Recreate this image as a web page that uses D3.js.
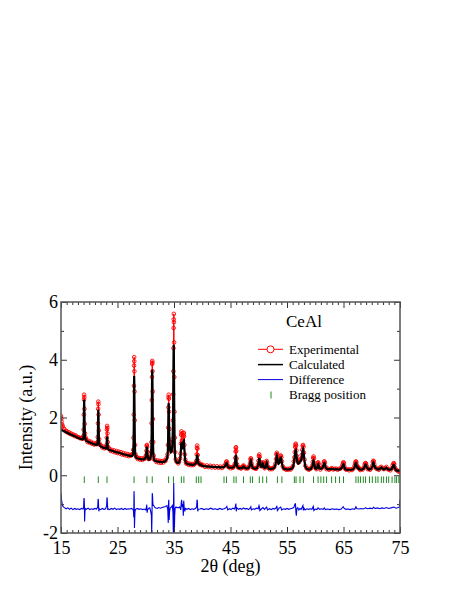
<!DOCTYPE html>
<html>
<head>
<meta charset="utf-8">
<script src="https://cdn.jsdelivr.net/npm/d3@7"></script>
<style>
  html, body { margin: 0; padding: 0; background: #fff; }
  svg { display: block; }
  text { font-family: "Liberation Serif", "Times New Roman", "DejaVu Serif", serif; fill: #000; }
</style>
</head>
<body>
<svg id="chart" width="457" height="591"></svg>
<script>
// ---------- DATA ----------
const twoTheta = [
  15.0, 15.05, 15.1, 15.2, 15.3, 15.45, 15.6, 15.8, 16.0, 16.2, 16.4, 16.6, 16.8, 17.0, 17.2, 17.4, 17.6, 17.8, 18.0, 18.2, 18.4, 18.6, 18.8,
  18.9, 18.96, 19.0, 19.04, 19.07, 19.1, 19.13, 19.16, 19.2, 19.25, 19.32, 19.4,
  19.5, 19.7, 19.9, 20.1, 20.3, 20.5, 20.7, 20.9, 21.1, 21.3,
  21.4, 21.46, 21.5, 21.54, 21.57, 21.6, 21.63, 21.66, 21.7, 21.75, 21.82, 21.9,
  22.1, 22.3, 22.5, 22.7, 22.9,
  23.0, 23.06, 23.1, 23.13, 23.16, 23.19, 23.22, 23.27, 23.35, 23.45,
  23.6, 23.8, 24.0, 24.2, 24.4, 24.6, 24.8, 25.0, 25.2, 25.4, 25.6, 25.8, 26.0, 26.2, 26.4, 26.6, 26.8, 27.0, 27.2, 27.4, 27.6,
  27.7, 27.78, 27.84, 27.88, 27.91, 27.93, 27.95, 27.97, 27.99, 28.02, 28.06, 28.12, 28.2, 28.3,
  28.45, 28.6, 28.8, 29.0, 29.2, 29.4, 29.6, 29.8, 29.95,
  30.05, 30.12, 30.17, 30.21, 30.25, 30.3, 30.4, 30.5, 30.6, 30.75, 30.85,
  30.95, 31.0, 31.04, 31.07, 31.1, 31.13, 31.15, 31.17, 31.2, 31.23, 31.27, 31.32, 31.4, 31.5,
  31.7, 31.9, 32.1, 32.3, 32.5, 32.7, 32.9, 33.1, 33.3, 33.5, 33.7,
  33.85, 33.92, 33.97, 34.01, 34.04, 34.06, 34.09, 34.13, 34.18, 34.25, 34.35, 34.45, 34.55, 34.65, 34.73, 34.8, 34.85, 34.88, 34.91, 34.93, 34.95, 34.97, 34.99, 35.02, 35.05, 35.09, 35.14, 35.2, 35.3, 35.45,
  35.6, 35.75, 35.9, 36.05,
  36.15, 36.22, 36.27, 36.31, 36.35, 36.42, 36.5, 36.58, 36.65, 36.7, 36.74, 36.78, 36.84, 36.92, 37.0, 37.1, 37.2,
  37.4, 37.6, 37.8, 38.0, 38.2, 38.4, 38.6, 38.8,
  38.95, 39.02, 39.07, 39.11, 39.15, 39.2, 39.28, 39.38, 39.5, 39.65, 39.8, 39.95,
  40.2, 40.5, 40.8, 41.1, 41.4, 41.7, 42.0, 42.3, 42.6, 42.9, 43.2, 43.5, 43.8, 44.0,
  44.15, 44.25, 44.32, 44.4, 44.5, 44.65,
  44.85, 45.05, 45.25, 45.45, 45.65,
  45.78, 45.85, 45.9, 45.94, 45.98, 46.02, 46.08, 46.16, 46.28, 46.45,
  46.65, 46.85, 47.05, 47.2, 47.3, 47.4, 47.6, 47.8, 48.0, 48.2, 48.35,
  48.45, 48.53, 48.6, 48.67, 48.75, 48.9, 49.1,
  49.3, 49.5, 49.7, 49.85,
  49.95, 50.03, 50.1, 50.17, 50.25, 50.38, 50.5, 50.62, 50.7, 50.78, 50.9, 51.05, 51.2, 51.32, 51.4, 51.48, 51.6, 51.75, 51.95,
  52.15, 52.35, 52.55, 52.75, 52.95,
  53.05, 53.12, 53.2, 53.28, 53.38, 53.5, 53.62, 53.75, 53.85, 53.92, 54.0, 54.1, 54.25, 54.45,
  54.65, 54.85, 55.05, 55.25, 55.45, 55.65, 55.85, 56.05, 56.2,
  56.3, 56.38, 56.45, 56.5, 56.55, 56.6, 56.67, 56.75, 56.85, 57.0, 57.15, 57.3, 57.45, 57.6, 57.7, 57.78, 57.85, 57.92, 58.0, 58.1, 58.25, 58.45,
  58.65, 58.85, 59.05, 59.25, 59.45,
  59.55, 59.63, 59.7, 59.77, 59.85, 60.0, 60.2, 60.35, 60.45, 60.52, 60.6, 60.72, 60.9, 61.1, 61.3, 61.45, 61.55, 61.62, 61.7, 61.82, 62.0,
  62.2, 62.45, 62.7, 62.95, 63.2, 63.45, 63.7, 63.95, 64.2, 64.45, 64.7,
  64.85, 64.93, 65.0, 65.07, 65.15, 65.3, 65.5,
  65.75, 66.0, 66.25, 66.5, 66.75, 66.95,
  67.05, 67.13, 67.2, 67.27, 67.35, 67.5, 67.62, 67.75, 67.95,
  68.15, 68.4, 68.6, 68.75, 68.85, 68.92, 69.0, 69.12, 69.3, 69.5, 69.7, 69.9, 70.1, 70.2, 70.28, 70.35, 70.45, 70.6, 70.8,
  71.0, 71.25, 71.5, 71.7, 71.9, 72.15, 72.4, 72.6, 72.8, 73.05, 73.3, 73.55, 73.7,
  73.82, 73.9, 73.98, 74.1, 74.3, 74.5, 74.7, 74.9, 75.0
];
const yObs = [
  2.05, 1.96, 1.86, 1.76, 1.70, 1.62, 1.60, 1.52, 1.53, 1.47, 1.49, 1.43, 1.45, 1.40, 1.41, 1.36, 1.38, 1.33, 1.32, 1.31, 1.28, 1.29, 1.27,
  1.28, 1.36, 1.58, 2.10, 2.62, 2.79, 2.70, 2.30, 1.78, 1.45, 1.32, 1.26,
  1.22, 1.15, 1.19, 1.12, 1.16, 1.09, 1.12, 1.06, 1.10, 1.08,
  1.08, 1.15, 1.32, 1.80, 2.30, 2.55, 2.46, 2.10, 1.55, 1.25, 1.10, 1.05,
  1.03, 0.96, 0.99, 0.93, 0.97,
  0.95, 1.05, 1.30, 1.58, 1.71, 1.64, 1.45, 1.15, 0.98, 0.92,
  0.91, 0.84, 0.88, 0.82, 0.86, 0.79, 0.84, 0.77, 0.82, 0.75, 0.80, 0.72, 0.77, 0.70, 0.75, 0.68, 0.73, 0.66, 0.71, 0.68, 0.72,
  0.74, 0.88, 1.30, 2.10, 3.10, 3.80, 4.09, 3.95, 3.60, 2.90, 1.90, 1.05, 0.72, 0.63,
  0.62, 0.56, 0.60, 0.54, 0.59, 0.53, 0.58, 0.57, 0.64,
  0.70, 0.85, 1.02, 1.05, 0.98, 0.80, 0.63, 0.56, 0.57, 0.58, 0.66,
  0.80, 1.15, 1.80, 2.60, 3.40, 3.85, 3.96, 3.90, 3.60, 2.90, 1.95, 1.15, 0.68, 0.54,
  0.53, 0.46, 0.51, 0.44, 0.50, 0.43, 0.49, 0.44, 0.51, 0.50, 0.60,
  0.72, 1.05, 1.65, 2.35, 2.70, 2.79, 2.65, 2.20, 1.60, 1.15, 0.92, 0.84, 0.86, 0.98, 1.25, 1.90, 2.80, 3.60, 4.40, 5.10, 5.40, 5.59, 5.30, 4.60, 3.40, 2.20, 1.30, 0.80, 0.55, 0.47,
  0.46, 0.41, 0.47, 0.58,
  0.75, 1.10, 1.40, 1.52, 1.45, 1.20, 1.05, 1.20, 1.38, 1.45, 1.47, 1.35, 1.05, 0.72, 0.54, 0.45, 0.40,
  0.42, 0.36, 0.40, 0.35, 0.39, 0.35, 0.38, 0.43,
  0.50, 0.72, 0.95, 1.03, 0.92, 0.70, 0.50, 0.42, 0.38, 0.37, 0.39, 0.34,
  0.35, 0.29, 0.34, 0.28, 0.33, 0.27, 0.32, 0.26, 0.31, 0.26, 0.30, 0.25, 0.31, 0.34,
  0.39, 0.46, 0.48, 0.42, 0.33, 0.28,
  0.29, 0.24, 0.28, 0.26, 0.33,
  0.40, 0.60, 0.82, 0.95, 0.97, 0.84, 0.58, 0.38, 0.29, 0.26,
  0.27, 0.23, 0.27, 0.31, 0.34, 0.30, 0.24, 0.26, 0.23, 0.27, 0.33,
  0.43, 0.55, 0.59, 0.53, 0.40, 0.28, 0.25,
  0.25, 0.22, 0.27, 0.36,
  0.50, 0.66, 0.72, 0.64, 0.46, 0.32, 0.31, 0.41, 0.45, 0.40, 0.30, 0.24, 0.29, 0.43, 0.50, 0.44, 0.31, 0.25, 0.21,
  0.24, 0.21, 0.25, 0.29, 0.40,
  0.56, 0.72, 0.78, 0.72, 0.54, 0.45, 0.48, 0.60, 0.67, 0.68, 0.62, 0.48, 0.31, 0.23,
  0.23, 0.19, 0.22, 0.19, 0.23, 0.20, 0.25, 0.32, 0.48,
  0.62, 0.80, 0.98, 1.06, 1.09, 1.02, 0.86, 0.66, 0.52, 0.44, 0.46, 0.54, 0.56, 0.70, 0.88, 1.02, 1.05, 0.98, 0.78, 0.54, 0.33, 0.24,
  0.23, 0.19, 0.22, 0.24, 0.33,
  0.46, 0.60, 0.65, 0.58, 0.42, 0.26, 0.21, 0.31, 0.42, 0.45, 0.39, 0.27, 0.20, 0.25, 0.28, 0.39, 0.47, 0.48, 0.43, 0.30, 0.21,
  0.23, 0.19, 0.22, 0.25, 0.20, 0.22, 0.23, 0.19, 0.22, 0.23, 0.30,
  0.37, 0.43, 0.45, 0.41, 0.31, 0.22, 0.19,
  0.21, 0.17, 0.21, 0.18, 0.23, 0.32,
  0.39, 0.46, 0.48, 0.44, 0.35, 0.27, 0.28, 0.23, 0.18,
  0.21, 0.20, 0.26, 0.36, 0.41, 0.42, 0.39, 0.31, 0.21, 0.22, 0.19, 0.24, 0.34, 0.46, 0.50, 0.48, 0.38, 0.28, 0.23,
  0.22, 0.19, 0.27, 0.29, 0.24, 0.21, 0.25, 0.29, 0.21, 0.20, 0.17, 0.24, 0.34,
  0.40, 0.42, 0.38, 0.27, 0.19, 0.17, 0.13, 0.14, 0.12
];
const yCalc = [
  1.58, 1.57, 1.57, 1.56, 1.55, 1.53, 1.52, 1.50, 1.48, 1.46, 1.44, 1.42, 1.40, 1.39, 1.37, 1.35, 1.33, 1.31, 1.30, 1.28, 1.27, 1.25, 1.24,
  1.25, 1.30, 1.45, 1.85, 2.35, 2.61, 2.40, 1.90, 1.50, 1.33, 1.26, 1.23,
  1.19, 1.17, 1.15, 1.13, 1.12, 1.10, 1.08, 1.07, 1.06, 1.06,
  1.06, 1.10, 1.22, 1.55, 2.00, 2.27, 2.08, 1.65, 1.28, 1.12, 1.05, 1.02,
  0.99, 0.97, 0.95, 0.94, 0.93,
  0.93, 0.98, 1.12, 1.28, 1.34, 1.25, 1.10, 0.97, 0.91, 0.89,
  0.87, 0.86, 0.85, 0.84, 0.82, 0.81, 0.80, 0.79, 0.78, 0.77, 0.76, 0.74, 0.73, 0.72, 0.71, 0.70, 0.69, 0.68, 0.67, 0.67, 0.67,
  0.70, 0.80, 1.10, 1.70, 2.60, 3.20, 3.44, 3.25, 2.70, 1.90, 1.20, 0.80, 0.66, 0.61,
  0.59, 0.58, 0.57, 0.56, 0.56, 0.55, 0.55, 0.56, 0.60,
  0.66, 0.78, 0.92, 0.98, 0.90, 0.74, 0.60, 0.55, 0.54, 0.56, 0.62,
  0.72, 0.95, 1.40, 2.10, 2.95, 3.50, 3.65, 3.45, 2.80, 2.00, 1.30, 0.85, 0.60, 0.52,
  0.49, 0.48, 0.47, 0.47, 0.46, 0.46, 0.45, 0.46, 0.47, 0.49, 0.55,
  0.65, 0.90, 1.40, 2.05, 2.45, 2.50, 2.30, 1.80, 1.30, 1.00, 0.85, 0.80, 0.82, 0.90, 1.10, 1.60, 2.30, 3.00, 3.80, 4.30, 4.52, 4.35, 3.80, 2.90, 2.00, 1.30, 0.85, 0.62, 0.50, 0.45,
  0.43, 0.42, 0.44, 0.52,
  0.65, 0.88, 1.08, 1.14, 1.08, 0.95, 0.90, 0.98, 1.12, 1.19, 1.20, 1.12, 0.90, 0.65, 0.50, 0.43, 0.41,
  0.39, 0.38, 0.38, 0.37, 0.36, 0.36, 0.37, 0.40,
  0.46, 0.58, 0.68, 0.71, 0.66, 0.55, 0.43, 0.40, 0.37, 0.36, 0.37, 0.33,
  0.32, 0.31, 0.31, 0.30, 0.30, 0.29, 0.29, 0.28, 0.28, 0.28, 0.27, 0.27, 0.28, 0.31,
  0.36, 0.41, 0.42, 0.38, 0.31, 0.27,
  0.26, 0.26, 0.26, 0.27, 0.30,
  0.36, 0.50, 0.63, 0.70, 0.68, 0.58, 0.43, 0.32, 0.27, 0.25,
  0.25, 0.24, 0.25, 0.28, 0.30, 0.28, 0.25, 0.24, 0.24, 0.25, 0.30,
  0.38, 0.47, 0.50, 0.46, 0.36, 0.26, 0.24,
  0.23, 0.23, 0.25, 0.32,
  0.42, 0.55, 0.60, 0.54, 0.40, 0.30, 0.30, 0.37, 0.40, 0.36, 0.28, 0.25, 0.27, 0.38, 0.43, 0.38, 0.28, 0.23, 0.22,
  0.22, 0.22, 0.23, 0.26, 0.35,
  0.48, 0.60, 0.66, 0.60, 0.46, 0.40, 0.42, 0.52, 0.59, 0.60, 0.54, 0.42, 0.28, 0.22,
  0.21, 0.21, 0.20, 0.20, 0.21, 0.21, 0.23, 0.28, 0.40,
  0.55, 0.68, 0.80, 0.86, 0.87, 0.82, 0.70, 0.56, 0.45, 0.40, 0.42, 0.48, 0.50, 0.60, 0.75, 0.87, 0.90, 0.84, 0.68, 0.48, 0.30, 0.23,
  0.21, 0.20, 0.20, 0.22, 0.29,
  0.38, 0.47, 0.50, 0.46, 0.36, 0.24, 0.22, 0.28, 0.36, 0.38, 0.34, 0.25, 0.22, 0.23, 0.26, 0.34, 0.41, 0.42, 0.38, 0.28, 0.22,
  0.21, 0.21, 0.21, 0.23, 0.21, 0.20, 0.22, 0.20, 0.20, 0.21, 0.26,
  0.32, 0.37, 0.38, 0.35, 0.28, 0.21, 0.19,
  0.19, 0.19, 0.19, 0.19, 0.21, 0.28,
  0.34, 0.40, 0.42, 0.39, 0.31, 0.25, 0.26, 0.22, 0.19,
  0.19, 0.21, 0.24, 0.31, 0.36, 0.37, 0.35, 0.28, 0.22, 0.20, 0.21, 0.22, 0.30, 0.40, 0.44, 0.42, 0.34, 0.26, 0.24,
  0.21, 0.20, 0.24, 0.27, 0.23, 0.20, 0.23, 0.26, 0.22, 0.19, 0.19, 0.22, 0.30,
  0.35, 0.36, 0.33, 0.24, 0.18, 0.16, 0.16, 0.15, 0.15
];
const diffTheta = [
  15.0, 15.1, 15.2, 15.35, 15.6, 15.9, 16.2, 16.5, 16.8, 17.1, 17.4, 17.7, 18.0, 18.3, 18.6, 18.9,
  19.0, 19.06, 19.1, 19.14, 19.18, 19.23, 19.3,
  19.5, 19.8, 20.1, 20.4, 20.7, 21.0, 21.3,
  21.5, 21.56, 21.6, 21.65, 21.7, 21.78,
  22.0, 22.3, 22.6, 22.9,
  23.08, 23.13, 23.17, 23.22, 23.28, 23.36,
  23.6, 23.9, 24.2, 24.5, 24.8, 25.1, 25.4, 25.7, 26.0, 26.3, 26.6, 26.9, 27.2, 27.5, 27.7,
  27.82, 27.88, 27.92, 27.96, 28.0, 28.04, 28.1, 28.2,
  28.5, 28.8, 29.1, 29.4, 29.7, 30.0,
  30.12, 30.18, 30.24, 30.32, 30.5, 30.7, 30.85,
  31.0, 31.05, 31.1, 31.15, 31.2, 31.25, 31.32, 31.42, 31.55, 31.7,
  32.0, 32.3, 32.6, 32.9, 33.2, 33.5, 33.75,
  33.9, 33.98, 34.03, 34.08, 34.14, 34.22, 34.35, 34.55, 34.7,
  34.82, 34.88, 34.92, 34.95, 34.98, 35.02, 35.06, 35.12, 35.2,
  35.35, 35.55, 35.8, 36.0,
  36.2, 36.28, 36.35, 36.45, 36.55, 36.65, 36.72, 36.8, 36.9, 37.05,
  37.3, 37.6, 37.9, 38.2, 38.5, 38.8,
  39.0, 39.08, 39.13, 39.2, 39.3,
  39.6, 39.9, 40.3, 40.7, 41.1, 41.5, 41.9, 42.3, 42.7, 43.1, 43.5, 43.9,
  44.2, 44.35, 44.5, 44.8, 45.1, 45.4, 45.7, 45.85, 45.95, 46.02, 46.1,
  46.4, 46.7, 47.0, 47.3, 47.6, 47.9, 48.2, 48.5, 48.6, 48.7, 49.0, 49.3, 49.6, 49.9,
  50.05, 50.12, 50.2, 50.5, 50.75, 51.0, 51.4, 51.55, 51.9, 52.2, 52.5, 52.8,
  53.1, 53.2, 53.3, 53.6, 53.9, 54.05, 54.4, 54.7, 55.0, 55.3, 55.6, 55.9,
  56.2, 56.4, 56.5, 56.58, 56.65, 56.75, 56.9, 57.1, 57.3, 57.5, 57.7, 57.82, 57.9, 58.0,
  58.2, 58.5, 58.8, 59.1, 59.4, 59.65, 59.75, 60.0, 60.3, 60.5, 60.8, 61.1, 61.4, 61.6, 61.8,
  62.2, 62.6, 63.0, 63.4, 63.8, 64.2, 64.6, 64.95, 65.1, 65.4, 65.8, 66.2, 66.6, 67.0, 67.2, 67.35,
  67.7, 68.1, 68.5, 68.9, 69.3, 69.7, 70.1, 70.3, 70.6, 71.0, 71.4, 71.8, 72.2, 72.6, 73.0, 73.4,
  73.9, 74.3, 74.7, 74.9, 75.0
];
const yDiff = [
  -0.62, -0.86, -0.98, -1.08, -1.12, -1.16, -1.13, -1.18, -1.14, -1.19, -1.15, -1.18, -1.16, -1.19, -1.15, -1.17,
  -1.10, -0.82, -0.79, -1.00, -1.60, -1.30, -1.15,
  -1.18, -1.14, -1.19, -1.16, -1.18, -1.15, -1.17,
  -1.10, -0.85, -0.82, -1.05, -1.25, -1.16,
  -1.19, -1.15, -1.18, -1.16,
  -1.05, -0.80, -0.77, -1.00, -1.20, -1.16,
  -1.19, -1.15, -1.18, -1.14, -1.19, -1.16, -1.18, -1.15, -1.19, -1.15, -1.18, -1.16, -1.17, -1.15, -1.18,
  -1.22, -1.45, -0.55, -0.75, -1.83, -1.55, -1.25, -1.18,
  -1.15, -1.18, -1.16, -1.19, -1.17, -1.20,
  -1.10, -1.02, -1.30, -1.20, -1.15, -1.13, -1.22,
  -1.40, -1.99, -1.50, -0.62, -0.70, -0.95, -1.05, -1.05, -1.10, -1.13,
  -1.15, -1.12, -1.14, -1.12, -1.10, -1.08, -1.05,
  -1.20, -1.65, -0.95, -0.85, -1.55, -1.25, -1.12, -1.10, -1.05,
  -1.30, -1.98, -0.90, -0.27, -0.65, -1.60, -2.00, -1.40, -1.15,
  -1.10, -1.12, -1.12, -1.10,
  -1.20, -0.95, -0.85, -1.10, -1.00, -1.40, -0.88, -1.10, -1.25, -1.15,
  -1.18, -1.15, -1.19, -1.16, -1.18, -1.15,
  -1.10, -0.85, -0.88, -1.25, -1.18,
  -1.17, -1.15, -1.19, -1.16, -1.18, -1.14, -1.18, -1.16, -1.19, -1.15, -1.18, -1.16,
  -1.12, -1.08, -1.20, -1.16, -1.19, -1.14, -1.17, -1.10, -0.98, -1.25, -1.12,
  -1.18, -1.15, -1.18, -1.13, -1.17, -1.15, -1.19, -1.13, -1.09, -1.20, -1.16, -1.18, -1.14, -1.16,
  -1.05, -1.10, -1.22, -1.16, -1.12, -1.18, -1.10, -1.20, -1.16, -1.19, -1.15, -1.17,
  -1.12, -1.06, -1.22, -1.14, -1.10, -1.20, -1.16, -1.18, -1.15, -1.18, -1.16, -1.14,
  -1.12, -1.00, -0.99, -1.28, -1.40, -1.15, -1.12, -1.20, -1.15, -1.18, -1.10, -1.05, -1.22, -1.14,
  -1.20, -1.16, -1.18, -1.16, -1.18, -1.08, -1.22, -1.17, -1.19, -1.13, -1.18, -1.16, -1.18, -1.13, -1.19,
  -1.17, -1.19, -1.16, -1.18, -1.17, -1.19, -1.17, -1.09, -1.14, -1.18, -1.17, -1.19, -1.16, -1.18, -1.09, -1.15,
  -1.17, -1.15, -1.17, -1.13, -1.16, -1.14, -1.16, -1.11, -1.15, -1.13, -1.16, -1.13, -1.15, -1.12, -1.15, -1.13,
  -1.10, -1.14, -1.12, -1.10, -0.85
];
const braggPositions = [
  19.12, 21.6, 23.14, 27.93, 30.2, 31.15, 34.05, 34.9, 36.3, 36.75, 38.95, 39.37, 39.78,
  43.85, 44.3, 45.6, 46.0, 47.3, 48.5, 48.9, 50.1, 50.7, 51.4, 53.3, 54.1, 56.3, 56.6,
  57.3, 57.9, 59.7, 60.5, 61.0, 61.5, 62.0, 62.9, 63.6, 64.3, 65.0, 67.2, 67.6, 68.0,
  68.5, 68.9, 69.6, 70.1, 70.7, 71.1, 71.7, 72.1, 72.6, 73.0, 73.6, 74.1, 74.4, 74.8
];
const braggRange = [-0.04, -0.27];
const xMajorTicks = [15, 25, 35, 45, 55, 65, 75];
const xMinorTicks = d3.range(15, 76, 1).filter(v => (v - 15) % 10 !== 0);
const yMajorTicks = [-2, 0, 2, 4, 6];
const yMinorTicks = [-1, 1, 3, 5];
const sampleName = "CeAl";
const legendLabels = ["Experimental", "Calculated", "Difference", "Bragg position"];
const xLabel = "2θ (deg)";
const yLabel = "Intensity (a.u.)";

// ---------- DRAWING ----------
const svg = d3.select("#chart");
const L = 61, R = 400, T = 302, B = 533;
const x = d3.scaleLinear().domain([15, 75]).range([L, R]);
const y = d3.scaleLinear().domain([-2, 6]).range([B, T]);

const n = Math.min(twoTheta.length, yObs.length, yCalc.length);
const obsData = d3.range(n).map(i => ({ t: twoTheta[i], v: yObs[i] }));
const calcData = d3.range(n).map(i => ({ t: twoTheta[i], v: yCalc[i] }));
const nd = Math.min(diffTheta.length, yDiff.length);
const diffData = d3.range(nd).map(i => ({ t: diffTheta[i], v: yDiff[i] }));

const line = d3.line().x(d => x(d.t)).y(d => y(d.v));

svg.append("defs").append("clipPath").attr("id", "clip")
  .append("rect").attr("x", L).attr("y", T - 3).attr("width", R - L).attr("height", B - T + 3);

const plot = svg.append("g").attr("clip-path", "url(#clip)");

// Experimental
plot.append("path").datum(obsData).attr("d", line)
  .attr("fill", "none").attr("stroke", "#ff0000").attr("stroke-width", 1);
plot.append("g").selectAll("circle").data(obsData).join("circle")
  .attr("cx", d => x(d.t)).attr("cy", d => y(d.v)).attr("r", 1.8)
  .attr("fill", "none").attr("stroke", "#ff0000").attr("stroke-width", 0.9);

// Calculated
plot.append("path").datum(calcData).attr("d", line)
  .attr("fill", "none").attr("stroke", "#000").attr("stroke-width", 2.2);

// Difference
plot.append("path").datum(diffData).attr("d", line)
  .attr("fill", "none").attr("stroke", "#0000e0").attr("stroke-width", 1.1);

// Bragg positions
plot.append("g").selectAll("line").data(braggPositions).join("line")
  .attr("x1", d => x(d)).attr("x2", d => x(d))
  .attr("y1", y(braggRange[0])).attr("y2", y(braggRange[1]))
  .attr("stroke", "#218a21").attr("stroke-width", 1);

// Axes
const axisColor = "#555";
function styleAxis(g, showLabels) {
  g.select(".domain").remove();
  g.selectAll(".tick line").attr("stroke", "#333").attr("stroke-width", 1);
  g.selectAll(".tick text").style("font-size", "18px")
    .style("font-family", '"Liberation Serif", "Times New Roman", serif').attr("fill", "#000");
  if (!showLabels) g.selectAll(".tick text").remove();
}
const fmt = d => String(d);

svg.append("g").attr("transform", `translate(0,${B})`)
  .call(d3.axisBottom(x).tickValues(xMajorTicks).tickSize(-6).tickPadding(8).tickFormat(fmt))
  .call(g => styleAxis(g, true));
svg.append("g").attr("transform", `translate(0,${B})`)
  .call(d3.axisBottom(x).tickValues(xMinorTicks).tickSize(-3))
  .call(g => styleAxis(g, false));
svg.append("g").attr("transform", `translate(0,${T})`)
  .call(d3.axisTop(x).tickValues(xMajorTicks).tickSize(-6))
  .call(g => styleAxis(g, false));
svg.append("g").attr("transform", `translate(0,${T})`)
  .call(d3.axisTop(x).tickValues(xMinorTicks).tickSize(-3))
  .call(g => styleAxis(g, false));

svg.append("g").attr("transform", `translate(${L},0)`)
  .call(d3.axisLeft(y).tickValues(yMajorTicks).tickSize(-6).tickPadding(3).tickFormat(fmt))
  .call(g => styleAxis(g, true));
svg.append("g").attr("transform", `translate(${L},0)`)
  .call(d3.axisLeft(y).tickValues(yMinorTicks).tickSize(-3))
  .call(g => styleAxis(g, false));
svg.append("g").attr("transform", `translate(${R},0)`)
  .call(d3.axisRight(y).tickValues(yMajorTicks).tickSize(-6))
  .call(g => styleAxis(g, false));
svg.append("g").attr("transform", `translate(${R},0)`)
  .call(d3.axisRight(y).tickValues(yMinorTicks).tickSize(-3))
  .call(g => styleAxis(g, false));

svg.append("rect").attr("x", L).attr("y", T).attr("width", R - L).attr("height", B - T)
  .attr("fill", "none").attr("stroke", axisColor).attr("stroke-width", 1.5);

// Axis labels
svg.append("text").attr("x", (L + R) / 2).attr("y", 572).attr("text-anchor", "middle")
  .style("font-size", "18px").text(xLabel);
svg.append("text").attr("transform", `translate(32,${(T + B) / 2}) rotate(-90)`)
  .attr("text-anchor", "middle").style("font-size", "18px").text(yLabel);

// Sample name
svg.append("text").attr("x", 286).attr("y", 326.5).style("font-size", "17px").text(sampleName);

// Legend
const lg = svg.append("g");
const rowY = [349.3, 364.6, 379.6, 395];
const lx1 = 258, lx2 = 283, tx = 289;
lg.append("line").attr("x1", lx1).attr("x2", lx2).attr("y1", rowY[0]).attr("y2", rowY[0])
  .attr("stroke", "#ff0000").attr("stroke-width", 1);
lg.append("circle").attr("cx", (lx1 + lx2) / 2).attr("cy", rowY[0]).attr("r", 3.5)
  .attr("fill", "#fff").attr("stroke", "#ff0000").attr("stroke-width", 1);
lg.append("line").attr("x1", lx1).attr("x2", lx2).attr("y1", rowY[1]).attr("y2", rowY[1])
  .attr("stroke", "#000").attr("stroke-width", 1.5);
lg.append("line").attr("x1", lx1).attr("x2", lx2).attr("y1", rowY[2]).attr("y2", rowY[2])
  .attr("stroke", "#0000e0").attr("stroke-width", 1);
lg.append("line").attr("x1", 271).attr("x2", 271).attr("y1", rowY[3] - 3.5).attr("y2", rowY[3] + 3.5)
  .attr("stroke", "#218a21").attr("stroke-width", 1);
legendLabels.forEach((lab, i) => {
  lg.append("text").attr("x", tx).attr("y", rowY[i]).attr("dy", "0.33em")
    .style("font-size", "13px").text(lab);
});
</script>
</body>
</html>
